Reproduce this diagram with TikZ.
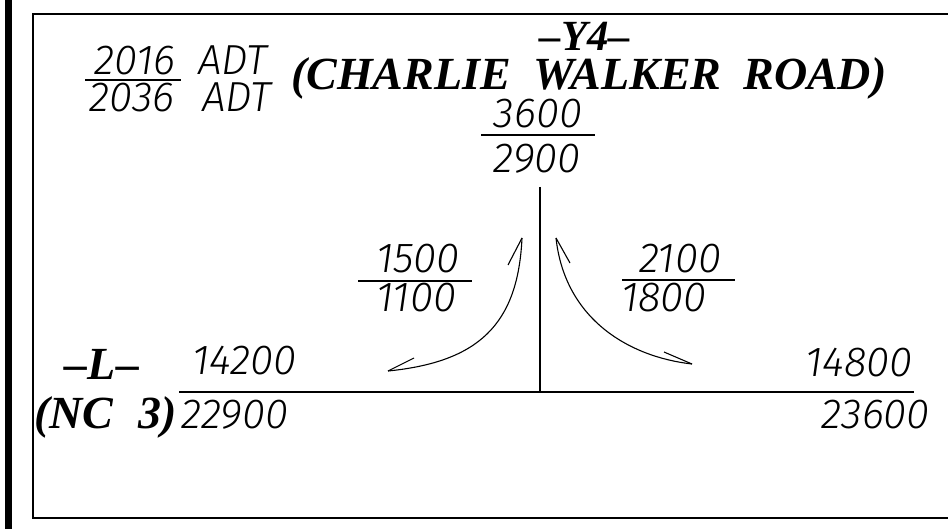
\documentclass[tikz,border=0pt]{standalone}
\usepackage{fontspec}
\setmainfont{Liberation Serif}
\newfontfamily\volfont{Fira Sans Light Italic}
\usetikzlibrary{positioning}

\tikzset{
  vol/.style={font=\volfont\fontsize{42}{42}\selectfont, inner sep=0pt,
    text height=0.68em, text depth=0pt},
  rdname/.style={font=\bfseries\itshape\fontsize{46}{46}\selectfont, inner sep=0pt,
    text height=0.68em, text depth=0.1em},
  road/.style={line width=1.4pt},
  bar/.style={line width=1.3pt},
  turn/.style={line width=1.1pt},
}

\begin{document}
\begin{tikzpicture}[x=1pt,y=-1pt]
  \useasboundingbox (0,0) rectangle (948,529);

  % sheet edge and frame
  \fill (5,0) rectangle (12,529);
  \draw[line width=1.3pt] (948,14) -- (33,14) -- (33,518) -- (948,518);

  % legend
  \node[vol, anchor=base] (yrbase) at (135,75) {2016};
  \node[vol, anchor=base] (yrdes) at (132,112) {2036};
  \node[vol, anchor=base west] (adtbase) at (198,75) {ADT};
  \node[vol, anchor=base west] (adtdes) at (202,112) {ADT};
  \draw[bar] (85,80) -- (181,80);

  % road names
  \node[rdname, font=\bfseries\itshape\fontsize{43}{43}\selectfont, anchor=base,
    text depth=0pt] (yname) at (585,51) {--Y4--};
  \node[rdname, anchor=base west] (ytitle) at (291,90)
    {(CHARLIE\hspace{22pt}WALKER\hspace{22pt}ROAD)};
  \node[rdname, anchor=base, text depth=0pt] (lname) at (102,380) {--L--};
  \node[rdname, anchor=base west] (ltitle) at (34,428) {(NC\hspace{25pt}3)};

  % roads
  \coordinate (ctr) at (540,392);
  \coordinate (ytop) at (540,187);
  \coordinate (lwest) at (179,392);
  \coordinate (least) at (914,392);
  \draw[road] (lwest) -- (least);
  \draw[road] (ytop) -- (ctr);

  % Y4 leg volumes
  \node[vol, anchor=base] (yvolb) at (538,128) {3600};
  \node[vol, anchor=base] (yvold) at (537,173) {2900};
  \draw[bar] (481,135) -- (595,135);

  % left turn
  \coordinate (ltop) at (522,238);
  \coordinate (lend) at (388,371);
  \draw[turn] (ltop) .. controls (518,325) and (478,362) .. (lend);
  \draw[turn] (ltop) -- (508,265);
  \draw[turn] (lend) -- (414,358);
  \node[vol, anchor=base] (ltvolb) at (418,273) {1500};
  \node[vol, anchor=base] (ltvold) at (416,312) {1100};
  \draw[bar] (358,281) -- (472,281);

  % right turn
  \coordinate (rtop) at (556,238);
  \coordinate (rend) at (692,364);
  \draw[turn] (rtop) .. controls (565,320) and (630,357) .. (rend);
  \draw[turn] (rtop) -- (570,263);
  \draw[turn] (rend) -- (664,352);
  \node[vol, anchor=base] (rtvolb) at (680,273) {2100};
  \node[vol, anchor=base] (rtvold) at (664,312) {1800};
  \draw[bar] (622,280) -- (735,280);

  % L volumes
  \node[vol, anchor=base west] (lwvolb) at (192,374) {14200};
  \node[vol, anchor=base west] (lwvold) at (181,428) {22900};
  \node[vol, anchor=base east] (levolb) at (913,377) {14800};
  \node[vol, anchor=base east] (levold) at (930,428) {23600};
\end{tikzpicture}
\end{document}
